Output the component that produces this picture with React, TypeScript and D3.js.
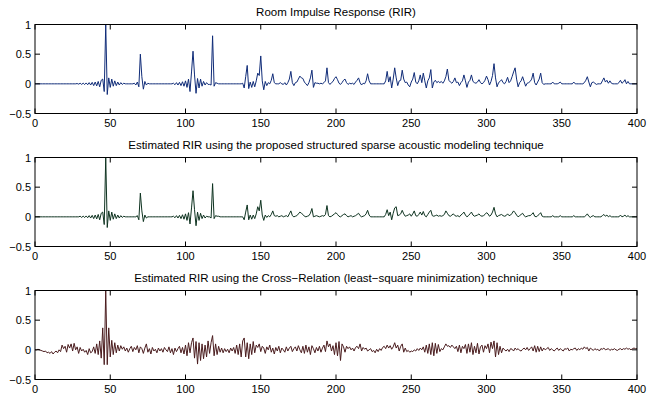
import React from "react";
import * as d3 from "d3";

const W = 667;
const H = 399;
const N = 400;

const titles = [
  "Room Impulse Response (RIR)",
  "Estimated RIR using the proposed structured sparse acoustic modeling technique",
  "Estimated RIR using the Cross\u2212Relation (least\u2212square minimization) technique",
];
const colors = ["#102c78", "#0e3320", "#4a1c1e"];
const xTicks = [0, 50, 100, 150, 200, 250, 300, 350, 400];
const yTicks = [-0.5, 0, 0.5, 1];

// True RIR: [sample, amplitude] (samples not listed are 0)
const rirTrue: [number, number][] = [
  [28,0.005],[29,-0.005],[30,0.01],[31,-0.01],[32,0.012],[33,-0.012],[34,0.015],[35,-0.015],[36,0.02],[37,-0.02],
  [38,0.025],[39,-0.03],[40,0.03],[41,-0.035],[42,0.04],[43,-0.05],[44,0.06],[45,0.08],[46,-0.13],[47,1.0],
  [48,-0.18],[49,0.1],[50,-0.06],[51,0.08],[52,-0.04],[53,0.05],[54,-0.03],[55,0.03],[56,-0.02],[57,0.02],[58,-0.01],[59,0.01],
  [66,0.01],[67,-0.02],[68,0.03],[69,-0.05],[70,0.5],[71,0.12],[72,-0.09],[73,0.04],[74,-0.02],[75,0.01],
  [92,0.01],[93,-0.015],[94,0.02],[95,-0.02],[96,0.025],[97,-0.03],[98,0.035],[99,-0.04],[100,0.05],[101,-0.06],
  [102,0.08],[103,-0.13],[104,0.2],[105,0.55],[106,0.15],[107,-0.16],[108,0.09],[109,-0.07],[110,0.08],[111,-0.04],
  [112,0.04],[113,-0.02],[114,0.02],[115,-0.01],
  [116,-0.01],[117,-0.02],[118,0.81],[119,-0.04],[120,0.02],[121,0.01],
  [138,0.01],[139,-0.07],[140,0.12],[141,0.31],[142,-0.08],[143,0.03],[144,-0.06],[145,0.04],[146,-0.05],[147,0.05],
  [148,0.18],[149,0.14],[150,0.47],[151,0.05],[152,-0.1],[153,0.04],[154,-0.03],[155,0.02],[157,0.06],[158,0.17],
  [159,0.02],[163,0.02],[165,-0.01],[166,0.02],[167,-0.02],[168,0.02],[169,0.08],[170,0.21],[171,0.02],[172,-0.03],
  [173,0.02],[174,0.03],[175,0.08],[176,0.13],[177,0.1],[178,0.09],[179,0.03],[181,-0.03],[182,0.02],[183,0.1],
  [184,0.23],[185,-0.06],[186,0.02],[187,0.01],[188,0.01],[190,0.01],[192,0.02],[193,0.05],[194,0.27],[195,0.02],
  [196,-0.01],[197,0.02],[198,0.04],[199,0.09],[200,0.12],[201,0.07],[202,0.01],[203,-0.01],[204,0.02],[205,0.06],
  [206,0.08],[207,0.02],[208,-0.01],[209,0.01],[211,0.01],[212,-0.01],[213,0.03],[214,0.06],[215,0.1],[216,0.02],
  [217,-0.02],[218,0.01],[220,0.05],[221,0.17],[222,0.05],
  [233,0.05],[234,0.21],[235,0.03],[236,0.12],[237,-0.07],[238,0.08],[239,0.27],[240,0.1],[241,-0.03],[242,0.05],
  [243,0.06],[244,0.23],[245,0.08],[246,0.02],[247,0.03],[248,-0.02],[249,-0.05],[250,0.03],[251,0.08],[252,0.19],
  [253,0.03],[255,0.05],[256,0.15],[257,0.02],[258,0.18],[259,0.05],[260,-0.07],[261,0.05],[262,0.1],[263,0.24],
  [264,-0.07],[265,0.03],[266,0.06],[267,0.02],[268,0.04],[269,0.02],[270,0.04],[271,0.01],[272,0.05],[273,0.12],
  [274,0.25],[275,0.06],[276,0.03],[277,0.01],[278,0.04],[279,0.1],[280,0.02],[281,0.03],[282,-0.03],[283,0.02],
  [284,0.05],[285,0.15],[286,0.05],[287,-0.06],[288,0.03],[289,0.06],[290,0.15],[291,0.04],[292,0.02],[293,0.01],
  [294,0.03],[295,0.07],[296,0.02],[298,0.02],[299,0.06],[300,0.13],[301,0.07],[302,-0.02],[303,0.04],[304,0.14],
  [305,0.34],[306,0.1],[307,-0.05],[308,0.02],[309,0.04],[310,0.07],[311,0.02],[313,0.04],[314,0.11],[315,0.02],
  [316,0.05],[317,0.12],[318,0.2],[319,0.27],[320,0.08],[321,-0.05],[322,0.02],[323,0.05],[324,0.12],[325,0.04],
  [326,-0.04],[327,0.01],[328,0.02],[329,0.04],[330,0.08],[331,0.18],[332,0.02],[333,-0.02],[334,0.03],[335,0.08],
  [336,0.18],[337,0.02],[338,-0.01],[344,0.03],[348,0.01],[349,0.03],[358,0.03],[365,0.02],[366,0.06],[367,0.12],
  [368,0.03],[369,-0.05],[370,0.02],[371,0.03],[372,0.01],[373,-0.01],[377,0.05],[378,0.1],[379,0.03],[380,0.06],
  [381,0.01],[382,0.05],[383,0.01],[388,0.02],[389,0.06],[390,0.01],[391,0.03],[392,0.07],[394,0.04],
];

// Structured sparse estimate: [sample, amplitude]
const rirSparse: [number, number][] = [
  [30,0.01],[31,-0.01],[32,0.012],[33,-0.012],[34,0.015],[35,-0.015],[36,0.02],[37,-0.02],[38,0.025],[39,-0.03],
  [40,0.03],[41,-0.035],[42,0.04],[43,-0.05],[44,0.06],[45,0.08],[46,-0.13],[47,1.0],[48,-0.18],[49,0.1],
  [50,-0.06],[51,0.08],[52,-0.04],[53,0.05],[54,-0.03],[55,0.03],[56,-0.02],[57,0.02],[58,-0.01],[59,0.01],
  [68,0.02],[69,-0.05],[70,0.4],[71,0.1],[72,-0.08],[73,0.03],[74,-0.02],
  [92,0.01],[93,-0.015],[94,0.02],[95,-0.02],[96,0.025],[97,-0.03],[98,0.035],[99,-0.04],[100,0.05],[101,-0.06],
  [102,0.07],[103,-0.12],[104,0.15],[105,0.44],[106,0.12],[107,-0.15],[108,0.08],[109,-0.06],[110,0.06],[111,-0.03],
  [112,0.03],[113,-0.02],[114,0.01],
  [117,-0.02],[118,0.56],[119,-0.03],[120,0.02],[121,0.01],[122,0.01],
  [139,-0.05],[140,0.08],[141,0.2],[142,-0.05],[143,0.03],[144,-0.04],[145,0.03],[146,-0.03],[147,0.05],[148,0.17],
  [149,0.1],[150,0.28],[151,0.03],[152,-0.06],[153,0.03],[154,-0.01],[155,0.02],[157,0.04],[158,0.1],[159,0.02],
  [160,0.01],[161,0.02],[163,0.01],[164,0.02],[166,0.01],[167,0.02],[169,0.05],[170,0.1],[171,0.02],[173,0.01],
  [174,0.02],[175,0.05],[176,0.08],[177,0.06],[178,0.04],[179,0.01],[181,0.01],[182,0.02],[183,0.06],[184,0.14],
  [186,0.01],[187,0.02],[188,0.01],[190,0.01],[191,0.02],[192,0.01],[193,0.04],[194,0.19],[195,0.02],[197,0.01],
  [198,0.03],[199,0.05],[200,0.07],[201,0.04],[202,0.01],[204,0.02],[205,0.04],[206,0.05],[207,0.02],[209,0.01],
  [210,0.02],[212,0.01],[213,0.02],[214,0.04],[215,0.06],[216,0.02],[218,0.01],[219,0.02],[220,0.05],[221,0.11],
  [222,0.03],
  [233,0.04],[234,0.12],[235,0.02],[236,0.08],[237,-0.05],[238,0.06],[239,0.15],[240,0.17],[241,0.02],[242,0.03],
  [243,0.05],[244,0.11],[245,0.05],[246,0.01],[247,0.02],[248,0.03],[249,0.05],[250,0.01],[251,0.05],[252,0.1],
  [253,0.02],[254,0.01],[255,0.04],[256,0.08],[257,0.03],[258,0.09],[259,0.02],[261,0.04],[262,0.08],[263,0.11],
  [264,0.02],[265,0.01],[266,0.02],[267,0.03],[268,0.01],[269,0.02],[270,0.01],[271,0.02],[272,0.04],[273,0.1],
  [274,0.06],[275,0.02],[276,0.01],[277,0.03],[278,0.05],[279,0.02],[280,0.01],[281,0.02],[283,0.03],[284,0.05],
  [285,0.08],[286,0.03],[288,0.02],[289,0.05],[290,0.08],[291,0.03],[292,0.01],[293,0.02],[294,0.03],[295,0.05],
  [296,0.02],[297,0.01],[298,0.02],[299,0.04],[300,0.07],[301,0.05],[302,0.01],[303,0.03],[304,0.08],[305,0.16],
  [306,0.05],[308,0.02],[309,0.03],[310,0.04],[311,0.02],[312,0.01],[313,0.02],[314,0.05],[315,0.02],[316,0.03],
  [317,0.06],[318,0.1],[319,0.07],[320,0.03],[322,0.02],[323,0.04],[324,0.06],[325,0.02],[327,0.01],[328,0.02],
  [329,0.02],[330,0.04],[331,0.07],[332,0.01],[334,0.02],[335,0.04],[336,0.07],[337,0.01],
  [344,0.02],[349,0.02],[358,0.02],[366,0.02],[367,0.05],[368,0.01],[369,-0.01],[370,0.01],[371,0.02],[377,0.02],
  [378,0.04],[379,0.01],[380,0.03],[382,0.02],[389,0.03],[391,0.01],[392,0.03],[394,0.02],
];

// Cross-relation estimate: one value per sample 0..400
const rirCrossRelation: number[] = [
  0, 0, 0.01, 0, -0.01, -0.02, -0.03, -0.02, -0.05, -0.04,
  -0.06, -0.03, -0.07, -0.04, -0.02, -0.05, 0.0, -0.03, 0.08, 0.02,
  0.06, -0.04, 0.09, 0.03, 0.1, -0.02, 0.11, 0.0, 0.05, -0.06,
  0.04, -0.02, 0.01, -0.04, -0.01, -0.08, 0.02, -0.05, -0.03, 0.05,
  -0.06, 0.1, -0.08, 0.15, -0.14, 0.37, -0.25, 1.0, -0.25, 0.37,
  -0.12, 0.16, -0.08, 0.12, -0.05, 0.08, -0.02, 0.07, 0.01, 0.05,
  -0.02, 0.03, -0.04, 0.02, 0.06, -0.03, 0.04, 0.0, 0.07, -0.05,
  0.05, 0.02, -0.06, 0.03, 0.1, -0.04, 0.02, -0.07, 0.04, -0.02,
  0.01, -0.05, 0.03, -0.02, 0.02, -0.04, 0.04, 0.0, -0.03, 0.05,
  -0.05, 0.02, -0.08, 0.03, -0.03, 0.02, 0.06, -0.05, 0.04, -0.07,
  0.08, -0.1, 0.12, -0.05, 0.12, 0.2, -0.14, 0.14, -0.24, 0.12,
  -0.18, 0.1, -0.15, 0.08, -0.12, 0.15, -0.06, 0.12, 0.24, -0.1,
  0.1, -0.08, 0.06, -0.04, 0.03, -0.05, 0.02, -0.03, 0.01, -0.05,
  0.03, -0.02, 0.04, -0.06, 0.08, -0.08, 0.1, -0.12, 0.15, 0.2,
  -0.12, 0.12, -0.15, 0.1, -0.08, 0.14, -0.05, 0.08, 0.04, 0.1,
  -0.03, 0.06, 0.03, -0.06, 0.05, 0.0, 0.08, -0.04, 0.03, -0.07,
  0.04, -0.02, 0.06, -0.05, 0.03, 0.0, -0.04, 0.05, -0.02, 0.03,
  0.06, -0.03, 0.02, 0.05, -0.02, 0.07, 0.0, -0.05, 0.06, -0.06,
  0.08, -0.04, 0.05, -0.08, 0.07, 0.02, -0.05, 0.04, -0.02, 0.06,
  -0.04, 0.03, 0.08, -0.03, 0.15, 0.05, 0.1, -0.02, 0.07, -0.08,
  0.12, -0.1, 0.14, -0.18, 0.1, 0.05, -0.04, 0.06, 0.02, 0.05,
  0.0, 0.03, -0.02, 0.04, 0.06, 0.02, 0.1, -0.02, 0.04, 0.01,
  0.03, -0.02, 0.0, 0.02, -0.03, -0.01, -0.05, 0.01, -0.03, 0.02,
  -0.01, 0.04, 0.06, 0.02, 0.08, 0.03, 0.07, 0.01, 0.05, 0.12,
  0.03, 0.08, -0.02, 0.06, 0.1, -0.04, 0.03, -0.03, -0.01, -0.04,
  -0.02, -0.03, 0.0, -0.02, 0.02, -0.01, 0.03, 0.0, 0.05, -0.04,
  0.08, -0.06, 0.1, -0.08, 0.12, -0.1, 0.11, -0.06, 0.09, -0.03,
  0.02, 0.0, 0.05, 0.1, 0.06, 0.07, 0.04, 0.08, 0.05, 0.02,
  0.06, -0.03, 0.08, -0.05, 0.06, 0.02, 0.09, -0.06, 0.1, -0.04,
  0.12, -0.08, 0.06, -0.05, 0.11, -0.07, 0.05, 0.08, -0.04, 0.07,
  0.02, 0.1, -0.05, 0.13, 0.02, 0.15, -0.12, 0.12, -0.08, 0.06,
  -0.05, 0.03, 0.0, -0.02, 0.01, -0.03, 0.02, 0.01, -0.02, 0.03,
  0.0, 0.02, -0.01, -0.02, 0.01, 0.03, 0.0, 0.04, -0.01, 0.02,
  0.05, -0.02, 0.07, -0.04, 0.06, -0.03, 0.05, -0.02, 0.03, 0.0,
  0.02, 0.04, -0.01, 0.02, 0.0, -0.02, 0.01, 0.03, -0.01, 0.02,
  0.0, -0.02, 0.02, 0.01, 0.03, -0.02, 0.01, 0.0, 0.02, 0.03,
  -0.01, 0.02, 0.0, 0.03, 0.01, 0.05, 0.02, 0.04, -0.02, 0.03,
  0.01, -0.01, 0.02, 0.0, 0.01, -0.02, 0.02, 0.01, 0.03, 0.0,
  0.01, 0.02, -0.01, 0.01, 0.0, 0.02, 0.0, -0.01, 0.01, 0.02,
  0.0, 0.02, 0.01, 0.03, 0.01, 0.02, 0.0, 0.02, 0.03, 0.02,
  0.02,
];

function fromSparse(pairs: [number, number][]): number[] {
  const arr = new Array(N + 1).fill(0);
  pairs.forEach(([i, v]) => { arr[i] = v; });
  return arr;
}

const series: number[][] = [fromSparse(rirTrue), fromSparse(rirSparse), rirCrossRelation];

const left = 35;
const right = 637;
const panelTops = [24.5, 157.5, 290.5];
const panelH = 89;
const tickLen = 5;
const font = "'Liberation Sans', Arial, Helvetica, sans-serif";

function fmtY(v: number): string {
  const s = String(v);
  return s.replace("-", "\u2212");
}

function Panel({ idx }: { idx: number }) {
  const top = panelTops[idx];
  const bottom = top + panelH;
  const x = d3.scaleLinear().domain([0, N]).range([left, right]);
  const y = d3.scaleLinear().domain([-0.5, 1]).range([bottom, top]);
  const line = d3
    .line<number>()
    .x((_, i) => x(i))
    .y((d) => y(d));
  const data = series[idx];
  const clipId = `clip${idx}`;
  return (
    <g>
      <defs>
        <clipPath id={clipId}>
          <rect x={left} y={top} width={right - left} height={panelH} />
        </clipPath>
      </defs>
      <text
        x={(left + right) / 2}
        y={top - 8.5}
        textAnchor="middle"
        fontFamily={font}
        fontSize={11.5}
        fill="#000"
      >
        {titles[idx]}
      </text>
      <path
        d={line(data) || ""}
        fill="none"
        stroke={colors[idx]}
        strokeWidth={1}
        strokeLinejoin="round"
        clipPath={`url(#${clipId})`}
      />
      <rect
        x={left}
        y={top}
        width={right - left}
        height={panelH}
        fill="none"
        stroke="#000"
        strokeWidth={1}
      />
      {xTicks.map((t) => (
        <g key={"x" + t}>
          <line x1={x(t)} x2={x(t)} y1={bottom} y2={bottom - tickLen} stroke="#000" strokeWidth={1} />
          <line x1={x(t)} x2={x(t)} y1={top} y2={top + tickLen} stroke="#000" strokeWidth={1} />
          <text
            x={x(t)}
            y={bottom + 13.5}
            textAnchor="middle"
            fontFamily={font}
            fontSize={11}
            fill="#000"
          >
            {t}
          </text>
        </g>
      ))}
      {yTicks.map((t) => (
        <g key={"y" + t}>
          <line x1={left} x2={left + tickLen} y1={y(t)} y2={y(t)} stroke="#000" strokeWidth={1} />
          <line x1={right} x2={right - tickLen} y1={y(t)} y2={y(t)} stroke="#000" strokeWidth={1} />
          <text
            x={left - 4}
            y={y(t) + 4}
            textAnchor="end"
            fontFamily={font}
            fontSize={11}
            fill="#000"
          >
            {fmtY(t)}
          </text>
        </g>
      ))}
    </g>
  );
}

export default function App() {
  return (
    <svg
      width={W}
      height={H}
      viewBox={`0 0 ${W} ${H}`}
      style={{ position: "absolute", left: 0, top: 0, background: "#fff" }}
    >
      <rect x={0} y={0} width={W} height={H} fill="#fff" />
      {[0, 1, 2].map((i) => (
        <Panel key={i} idx={i} />
      ))}
    </svg>
  );
}
